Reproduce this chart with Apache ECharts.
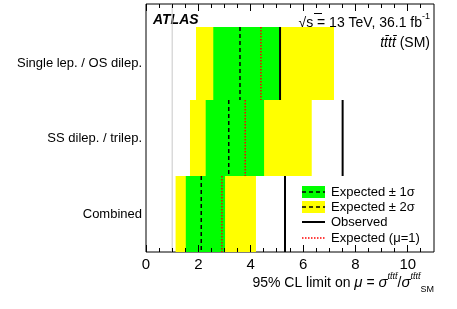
<!DOCTYPE html>
<html><head><meta charset="utf-8">
<script src="https://cdn.jsdelivr.net/npm/echarts@6/dist/echarts.min.js"></script>
<style>html,body{margin:0;padding:0;background:#fff}#c{width:457px;height:309px}</style>
</head><body><div id="c"></div>
<script>
// categories from top to bottom
var categories = ['Single lep. / OS dilep.', 'SS dilep. / trilep.', 'Combined'];
var expected   = [3.59, 3.16, 2.11];
var minus1     = [2.57, 2.28, 1.52];
var plus1      = [5.10, 4.51, 3.02];
var minus2     = [1.91, 1.68, 1.13];
var plus2      = [7.18, 6.33, 4.20];
var observed   = [5.12, 7.51, 5.31];
var expMu1     = [4.39, 3.79, 2.90];
var xTicks     = [0, 2, 4, 6, 8, 10];
var xMinorTicks = [0.5, 1, 1.5, 2.5, 3, 3.5, 4.5, 5, 5.5, 6.5, 7, 7.5, 8.5, 9, 9.5, 10.5];

var FONT = 'Liberation Sans, Arial, Helvetica, sans-serif';
var YMAX = 3.263;
// row extents in y-axis units (row index 0 = top)
var rowLo = [2, 1, 0], rowHi = [2.96, 2, 1];

var chart = echarts.init(document.getElementById('c'));

function renderRow(params, api) {
  var i = api.value(0);
  var lo = rowLo[i], hi = rowHi[i];
  function rect(a, b, color) {
    var p1 = api.coord([a, hi]), p2 = api.coord([b, lo]);
    return {type: 'rect', shape: {x: p1[0], y: p1[1], width: p2[0] - p1[0], height: p2[1] - p1[1]},
            style: {fill: color}};
  }
  function vline(x, style) {
    var p1 = api.coord([x, hi]), p2 = api.coord([x, lo]);
    return {type: 'line', shape: {x1: p1[0], y1: p1[1], x2: p2[0], y2: p2[1]}, style: style};
  }
  var labelPos = api.coord([0, (lo + hi) / 2]);
  return {type: 'group', children: [
    rect(minus2[i], plus2[i], '#ffff00'),
    rect(minus1[i], plus1[i], '#00ff00'),
    vline(expected[i], {stroke: '#000', lineWidth: 1.5, lineDash: [4, 3]}),
    vline(expMu1[i], {stroke: '#ff0000', lineWidth: 1.5, lineDash: [1.5, 1.5]}),
    vline(observed[i], {stroke: '#000', lineWidth: 2}),
    {type: 'text', x: labelPos[0] - 4, y: labelPos[1],
     style: {text: categories[i], align: 'right', verticalAlign: 'middle', font: '13px ' + FONT, fill: '#000'}}
  ]};
}

function tickRenderer(len) {
  return function (params, api) {
    var v = api.value(0);
    var b = api.coord([v, 0]), t = api.coord([v, YMAX]);
    var x = Math.round(b[0] - 0.5);
    return {type: 'group', children: [
      {type: 'rect', shape: {x: x, y: b[1] - len, width: 1, height: len}, style: {fill: '#000'}},
      {type: 'rect', shape: {x: x, y: t[1], width: 1, height: len}, style: {fill: '#000'}}
    ]};
  };
}

var tb = 't' + 't\u0304' + 't' + 't\u0304';

var option = {
  animation: false,
  grid: {left: 146, right: 23, top: 4, bottom: 57, show: true, borderColor: '#000', borderWidth: 1},
  xAxis: {type: 'value', min: 0, max: 11, interval: 2, position: 'bottom',
    splitLine: {show: false}, axisLine: {show: false}, axisTick: {show: false},
    axisLabel: {color: '#000', fontSize: 15, fontFamily: FONT, margin: 5,
      formatter: function (v) { return xTicks.indexOf(v) >= 0 ? String(v) : ''; }}},
  yAxis: {type: 'value', min: 0, max: YMAX, show: false},
  series: [
    {type: 'line', data: [[1, 0], [1, YMAX]], symbol: 'none', silent: true,
     lineStyle: {color: '#c8c8c8', width: 1}, z: 1},
    {type: 'custom', renderItem: renderRow, clip: false, z: 2,
     data: categories.map(function (c, i) { return [i]; })},
    {type: 'custom', renderItem: tickRenderer(7), clip: false, z: 5,
     data: xTicks.map(function (v) { return [v, 0]; })},
    {type: 'custom', renderItem: tickRenderer(4), clip: false, z: 5,
     data: xMinorTicks.map(function (v) { return [v, 0]; })}
  ],
  graphic: [
    {type: 'text', x: 153, y: 20, style: {text: 'ATLAS', font: 'italic bold 14px ' + FONT, fill: '#000', verticalAlign: 'middle'}},
    {type: 'text', x: 430, y: 21, style: {
      text: '{n|√s = 13 TeV, 36.1 fb}{s|-1}', align: 'right', verticalAlign: 'middle',
      rich: {n: {fontSize: 14, fontFamily: FONT, verticalAlign: 'bottom', lineHeight: 18},
             s: {fontSize: 9, fontFamily: FONT, verticalAlign: 'top', lineHeight: 12}}, fill: '#000'}},
    {type: 'line', shape: {x1: 314, y1: 13.5, x2: 322, y2: 13.5}, style: {stroke: '#000', lineWidth: 1}},
    {type: 'text', x: 430, y: 43, style: {
      text: '{i|' + tb + '}{n| (SM)}', align: 'right', verticalAlign: 'middle', fill: '#000',
      rich: {i: {fontSize: 14, fontStyle: 'italic', fontFamily: FONT}, n: {fontSize: 14, fontFamily: FONT}}}},
    // legend
    {type: 'rect', shape: {x: 302, y: 186, width: 23, height: 12}, style: {fill: '#00ff00'}},
    {type: 'line', shape: {x1: 302, y1: 192, x2: 325, y2: 192}, style: {stroke: '#000', lineWidth: 1.5, lineDash: [4, 3]}},
    {type: 'text', x: 331, y: 192, style: {text: 'Expected ± 1σ', font: '13px ' + FONT, verticalAlign: 'middle', fill: '#000'}},
    {type: 'rect', shape: {x: 302, y: 201, width: 23, height: 12}, style: {fill: '#ffff00'}},
    {type: 'line', shape: {x1: 302, y1: 207, x2: 325, y2: 207}, style: {stroke: '#000', lineWidth: 1.5, lineDash: [4, 3]}},
    {type: 'text', x: 331, y: 207, style: {text: 'Expected ± 2σ', font: '13px ' + FONT, verticalAlign: 'middle', fill: '#000'}},
    {type: 'line', shape: {x1: 302, y1: 222, x2: 325, y2: 222}, style: {stroke: '#000', lineWidth: 2}},
    {type: 'text', x: 331, y: 222, style: {text: 'Observed', font: '13px ' + FONT, verticalAlign: 'middle', fill: '#000'}},
    {type: 'line', shape: {x1: 302, y1: 238, x2: 325, y2: 238}, style: {stroke: '#ff0000', lineWidth: 1.5, lineDash: [1.5, 1.5]}},
    {type: 'text', x: 331, y: 238, style: {text: 'Expected (μ=1)', font: '13px ' + FONT, verticalAlign: 'middle', fill: '#000'}},
    // x-axis title
    {type: 'text', x: 434, y: 283, style: {
      text: '{n|95% CL limit on }{i|μ}{n| = }{i|σ}{p|' + tb + '}{n|/}{i|σ}{p|' + tb + '}{b|SM}',
      align: 'right', verticalAlign: 'middle', fill: '#000',
      rich: {n: {fontSize: 14, fontFamily: FONT, lineHeight: 22},
             i: {fontSize: 15, fontStyle: 'italic', fontFamily: FONT, lineHeight: 22},
             p: {fontSize: 9, fontStyle: 'italic', fontFamily: FONT, verticalAlign: 'top', lineHeight: 13},
             b: {fontSize: 9, fontFamily: FONT, verticalAlign: 'bottom', lineHeight: 11}}}}
  ]
};
chart.setOption(option);
</script></body></html>
